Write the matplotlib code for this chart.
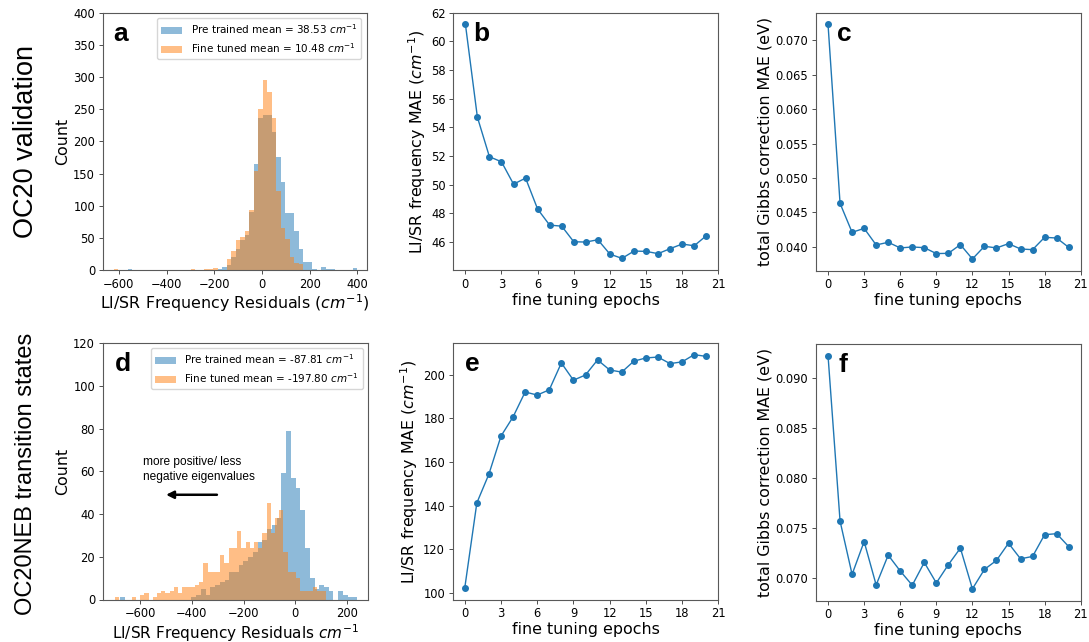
import numpy as np
import matplotlib
matplotlib.use('Agg')
import matplotlib.pyplot as plt

# ---- panel a: OC20 validation residual histograms (counts per bin) ----
a_bin_start = -620.7
a_bin_width = 18.9
a_pretrained = [0, 0, 0, 1, 0, 0, 0, 0, 0, 0,
                0, 0, 0, 0, 0, 0, 0, 0, 0, 0,
                0, 0, 0, 2, 5, 8, 20, 33, 47, 55,
                90, 165, 237, 241, 241, 215, 175, 137, 89, 88,
                61, 32, 13, 13, 2, 0, 4, 1, 1, 0,
                0, 0, 0, 3]
a_finetuned = [1, 0, 0, 0, 0, 0, 0, 0, 0, 0,
               0, 0, 0, 0, 0, 0, 0, 2, 0, 0,
               2, 2, 3, 0, 0, 17, 30, 46, 51, 60,
               94, 154, 251, 295, 277, 237, 123, 66, 48, 20,
               11, 10, 0, 0, 0, 0, 0, 0, 0, 0,
               0, 0, 0, 0]
a_labels = ['Pre trained mean = 38.53 $cm^{-1}$', 'Fine tuned mean = 10.48 $cm^{-1}$']

# ---- panel d: OC20NEB transition state residual histograms ----
d_pre_start, d_pre_width = -676.0, 18.3
d_fine_start, d_fine_width = -697.0, 16.28
d_pretrained = [1, 0, 0, 0, 0, 0, 0, 0, 0, 0,
                0, 0, 0, 0, 0, 1, 2, 5, 2, 6,
                7, 8, 9, 13, 13, 16, 18, 20, 22, 27,
                28, 33, 35, 38, 59, 79, 57, 52, 42, 24,
                10, 5, 7, 6, 4, 0, 4, 2, 1, 1]
d_finetuned = [1, 0, 0, 0, 1, 0, 2, 3, 0, 1,
               3, 4, 3, 4, 6, 3, 6, 6, 6, 7,
               8, 17, 13, 13, 13, 21, 17, 24, 24, 32,
               24, 27, 24, 27, 24, 31, 45, 31, 38, 42,
               22, 13, 13, 10, 4, 4, 4, 6, 4, 4]
d_labels = ['Pre trained mean = -87.81 $cm^{-1}$', 'Fine tuned mean = -197.80 $cm^{-1}$']

# ---- fine tuning curves ----
epochs = [0, 1, 2, 3, 4, 5, 6, 7, 8, 9, 10, 11, 12, 13, 14, 15, 16, 17, 18, 19, 20]
b_freq_mae = [61.23, 54.71, 51.95, 51.60, 50.04, 50.46, 48.30, 47.18, 47.11, 46.02, 46.00,
              46.16, 45.16, 44.86, 45.37, 45.35, 45.19, 45.54, 45.86, 45.74, 46.44]
c_gibbs_mae = [0.07227, 0.04632, 0.04212, 0.04270, 0.04029, 0.04068, 0.03986, 0.04000,
               0.03990, 0.03904, 0.03908, 0.04034, 0.03826, 0.04010, 0.03986, 0.04048,
               0.03971, 0.03961, 0.04140, 0.04130, 0.03995]
e_freq_mae = [102.3, 141.2, 154.4, 171.8, 180.6, 192.0, 190.6, 193.0, 205.3, 197.4, 199.8,
              206.7, 202.1, 201.1, 206.1, 207.6, 208.0, 205.0, 205.8, 209.1, 208.3]
f_gibbs_mae = [0.09229, 0.07570, 0.07036, 0.07365, 0.06930, 0.07229, 0.07070, 0.06927,
               0.07156, 0.06950, 0.07133, 0.07299, 0.06891, 0.07086, 0.07176, 0.07348,
               0.07192, 0.07216, 0.07434, 0.07444, 0.07315]

TICK_FS = 8.3
LABEL_FS = 11.4
ARIAL = 'Liberation Sans'


def edges_from(start, width, n):
    return start + width * np.arange(n + 1)


def style_axes(ax):
    for s in ax.spines.values():
        s.set_color('0.35')
        s.set_linewidth(0.8)
    ax.tick_params(labelsize=TICK_FS, length=3, width=0.7, color='0.3', pad=2.5)
    ax.xaxis.labelpad = 1.5
    ax.yaxis.labelpad = 2


def panel_letter(ax, letter, x):
    ax.text(x, 0.965, letter, transform=ax.transAxes, fontsize=19, fontweight='bold',
            family=ARIAL, va='top', ha='left')


def hist_panel(ax, counts_pre, counts_fine, edges_pre, edges_fine, labels):
    c_pre = 0.5 * (edges_pre[:-1] + edges_pre[1:])
    c_fine = 0.5 * (edges_fine[:-1] + edges_fine[1:])
    ax.hist(c_pre, bins=edges_pre, weights=counts_pre, alpha=0.5, color='C0', label=labels[0])
    ax.hist(c_fine, bins=edges_fine, weights=counts_fine, alpha=0.5, color='C1', label=labels[1])
    ax.legend(loc='upper right', fontsize=7.5)
    ax.set_ylabel('Count', fontsize=LABEL_FS)


def curve_panel(ax, y):
    ax.plot(epochs, y, '-o', color='C0', lw=1.0, markersize=4)
    ax.set_xticks([0, 3, 6, 9, 12, 15, 18, 21])
    ax.set_xlim(-1, 21)
    ax.set_xlabel('fine tuning epochs', fontsize=LABEL_FS)


fig = plt.figure(figsize=(10.89, 6.42), dpi=100)
W, H = 1089.0, 642.0


def add_ax(left, top, right, bottom):
    return fig.add_axes([left / W, 1 - bottom / H, (right - left) / W, (bottom - top) / H])


ax_a = add_ax(102.7, 12.7, 366.7, 270.0)
ax_b = add_ax(453.3, 12.7, 718.3, 270.0)
ax_c = add_ax(816.0, 12.7, 1080.7, 270.7)
ax_d = add_ax(102.7, 343.0, 368.3, 599.5)
ax_e = add_ax(452.7, 343.0, 718.3, 599.5)
ax_f = add_ax(816.0, 344.0, 1080.7, 600.5)

# a
ea = edges_from(a_bin_start, a_bin_width, len(a_pretrained))
hist_panel(ax_a, a_pretrained, a_finetuned, ea, ea, a_labels)
ax_a.set_xlim(-668, 439)
ax_a.set_ylim(0, 400)
ax_a.set_xticks([-600, -400, -200, 0, 200, 400])
ax_a.set_xlabel('LI/SR Frequency Residuals ($cm^{-1}$)', fontsize=LABEL_FS)
panel_letter(ax_a, 'a', 0.04)

# d
ep = edges_from(d_pre_start, d_pre_width, len(d_pretrained))
ef = edges_from(d_fine_start, d_fine_width, len(d_finetuned))
hist_panel(ax_d, d_pretrained, d_finetuned, ep, ef, d_labels)
ax_d.set_xlim(-744, 282)
ax_d.set_ylim(0, 120)
ax_d.set_xticks([-600, -400, -200, 0, 200])
ax_d.set_xlabel('LI/SR Frequency Residuals $cm^{-1}$', fontsize=11)
ax_d.annotate('', xy=(-510, 49), xytext=(-292, 49),
              arrowprops=dict(arrowstyle='-|>', color='black', lw=1.8, mutation_scale=11))
ax_d.text(-590, 67, 'more positive/ less\nnegative eigenvalues', fontsize=8.6,
          family=ARIAL, va='top', ha='left', linespacing=1.3)
panel_letter(ax_d, 'd', 0.045)

# b, c, e, f
curve_panel(ax_b, b_freq_mae)
ax_b.set_yticks([46, 48, 50, 52, 54, 56, 58, 60, 62])
ax_b.set_ylim(44.05, 62.0)
ax_b.set_ylabel('LI/SR frequency MAE ($cm^{-1}$)', fontsize=LABEL_FS)
panel_letter(ax_b, 'b', 0.075)

curve_panel(ax_c, c_gibbs_mae)
ax_c.set_ylabel('total Gibbs correction MAE (eV)', fontsize=LABEL_FS)
panel_letter(ax_c, 'c', 0.078)

curve_panel(ax_e, e_freq_mae)
ax_e.set_ylabel('LI/SR frequency MAE ($cm^{-1}$)', fontsize=LABEL_FS)
panel_letter(ax_e, 'e', 0.045)

curve_panel(ax_f, f_gibbs_mae)
ax_f.set_ylabel('total Gibbs correction MAE (eV)', fontsize=LABEL_FS)
panel_letter(ax_f, 'f', 0.085)

for ax in (ax_a, ax_b, ax_c, ax_d, ax_e, ax_f):
    style_axes(ax)

fig.text(26 / W, 1 - 141 / H, 'OC20 validation', rotation=90, ha='center', va='center',
         fontsize=19.5, family=ARIAL)
fig.text(26 / W, 1 - 474 / H, 'OC20NEB transition states', rotation=90, ha='center',
         va='center', fontsize=17, family=ARIAL)

fig.savefig('out.png', dpi=100)
